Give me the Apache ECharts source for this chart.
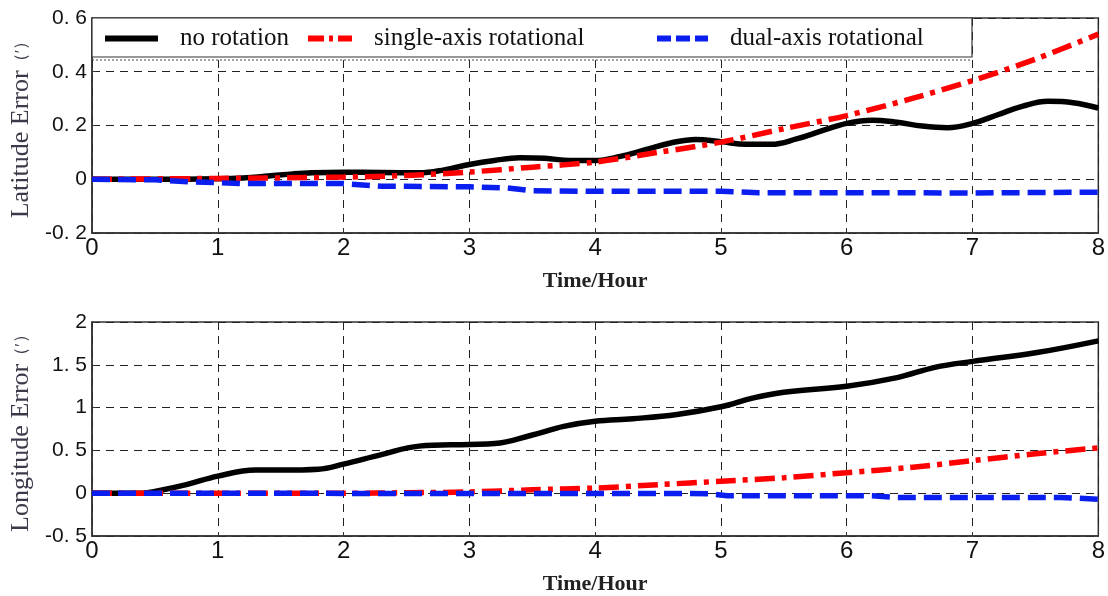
<!DOCTYPE html>
<html>
<head>
<meta charset="utf-8">
<script src="https://cdn.jsdelivr.net/npm/echarts@6/dist/echarts.min.js"></script>
<style>
  html, body { margin: 0; padding: 0; background: #fff; }
  #main { width: 1108px; height: 596px; }
</style>
</head>
<body>
<div id="main"></div>
<script>
// latitude error (top panel)
const latNoRotT = [0, 0.5, 1, 1.2, 1.4, 1.6, 1.75, 2, 2.3, 2.6, 2.8, 3, 3.2, 3.4, 3.6, 3.8, 4, 4.2, 4.4, 4.6, 4.8, 5, 5.2, 5.4, 5.6, 5.8, 6, 6.2, 6.4, 6.6, 6.8, 7, 7.2, 7.4, 7.6, 7.8, 8];
const latNoRot = [0, 0, 0.002, 0.005, 0.012, 0.02, 0.024, 0.026, 0.025, 0.024, 0.035, 0.055, 0.07, 0.08, 0.078, 0.07, 0.07, 0.085, 0.11, 0.135, 0.148, 0.14, 0.13, 0.13, 0.15, 0.18, 0.208, 0.22, 0.212, 0.198, 0.192, 0.208, 0.24, 0.272, 0.29, 0.285, 0.265];
const latSingleT = [0, 1, 2, 2.5, 3, 3.5, 4, 4.5, 5, 5.5, 6, 6.5, 7, 7.5, 8];
const latSingle = [0, 0.003, 0.008, 0.014, 0.027, 0.045, 0.064, 0.1, 0.138, 0.188, 0.237, 0.298, 0.367, 0.447, 0.54];
const latDualT = [0, 0.5, 0.8, 1.2, 2, 2.3, 3, 3.3, 3.5, 4, 5, 5.3, 6, 7, 8];
const latDual = [0, -0.002, -0.01, -0.016, -0.016, -0.026, -0.028, -0.032, -0.043, -0.045, -0.045, -0.05, -0.05, -0.051, -0.048];

// longitude error (bottom panel)
const lonNoRotT = [0, 0.4, 0.5, 0.75, 1, 1.3, 1.5, 1.8, 2, 2.3, 2.6, 3, 3.2, 3.5, 3.75, 4, 4.3, 4.65, 5, 5.25, 5.5, 6, 6.4, 6.7, 7, 7.5, 8];
const lonNoRot = [0, 0, 0.02, 0.1, 0.2, 0.27, 0.27, 0.28, 0.34, 0.45, 0.55, 0.57, 0.58, 0.68, 0.78, 0.84, 0.87, 0.92, 1.01, 1.11, 1.18, 1.25, 1.35, 1.47, 1.54, 1.64, 1.78];
const lonSingleT = [0, 1, 2, 2.5, 3, 3.5, 4, 4.5, 5, 5.5, 6, 6.5, 7, 7.5, 8];
const lonSingle = [0, 0, 0, 0.005, 0.015, 0.04, 0.06, 0.1, 0.14, 0.18, 0.24, 0.3, 0.38, 0.46, 0.53];
const lonDualT = [0, 4.9, 5.05, 6.2, 6.4, 7.7, 8];
const lonDual = [0, -0.005, -0.03, -0.03, -0.05, -0.05, -0.07];

const names = ['no rotation', 'single-axis rotational', 'dual-axis rotational'];
const yNames = ['Latitude Error', 'Longitude Error'];
const yUnit = '（′）';
const xName = 'Time/Hour';

const zip = (t, v) => t.map((x, i) => [x, v[i]]);
const serif = '"Liberation Serif", "DejaVu Serif", serif';
const sans = '"Liberation Sans", Arial, sans-serif';

const chartDom = document.getElementById('main');
const myChart = echarts.init(chartDom);

const styles = [
    { color: '#000000', type: 'solid', smooth: 0.4 },
    { color: '#ff0000', type: [20, 7, 5, 7], smooth: 0.3 },
    { color: '#0a1ef0', type: [18, 8], smooth: false }
];

function makeSeries(name, idx, data, axis) {
    const s = styles[names.indexOf(name)];
    return {
        name,
        type: 'line',
        xAxisIndex: axis,
        yAxisIndex: axis,
        data,
        symbol: 'none',
        smooth: s.smooth,
        lineStyle: { color: s.color, width: 5.5, type: s.type },
        itemStyle: { color: s.color },
        z: 3 + idx
    };
}

const fmt = v => String(v).replace('.', '. ');

function xAxis(grid) {
    return {
        type: 'value',
        gridIndex: grid,
        min: 0,
        max: 8,
        interval: 1,
        name: xName,
        nameLocation: 'middle',
        nameGap: 37,
        nameTextStyle: { fontFamily: serif, fontSize: 22, fontWeight: 'bold', color: '#222' },
        axisLine: { show: true, onZero: false, lineStyle: { color: '#333', width: 1.5 } },
        axisTick: { show: true, inside: true, length: 4, lineStyle: { color: '#333' } },
        axisLabel: { fontFamily: sans, fontSize: 24, color: '#111', margin: 3 },
        splitLine: { show: true, lineStyle: { color: '#222', type: [8, 6], width: 1 } }
    };
}

function yAxis(grid, min, max, interval) {
    return {
        type: 'value',
        gridIndex: grid,
        min,
        max,
        interval,
        name: yNames[grid] + '{p|' + yUnit + '}',
        nameLocation: 'middle',
        nameGap: 56,
        nameTextStyle: {
            fontFamily: serif, fontSize: 26, color: '#3a3a4a',
            rich: { p: { fontFamily: serif, fontSize: 17, color: '#3a3a4a' } }
        },
        axisLine: { show: true, onZero: false, lineStyle: { color: '#333', width: 1.5 } },
        axisTick: { show: true, inside: true, length: 4, lineStyle: { color: '#333' } },
        axisLabel: { fontFamily: sans, fontSize: 21, color: '#111', margin: 5, formatter: fmt },
        splitLine: { show: true, lineStyle: { color: '#222', type: [8, 6], width: 1 } }
    };
}

function legend(name, left, iconW, dash) {
    return {
        data: [name],
        left,
        top: 26,
        padding: 0,
        itemWidth: iconW,
        itemHeight: 14,
        selectedMode: false,
        itemStyle: { opacity: 0 },
        lineStyle: { width: 6, type: dash },
        textStyle: { fontFamily: serif, fontSize: 25, color: '#111', padding: [0, 0, 0, 17] },
        z: 20
    };
}

myChart.setOption({
    backgroundColor: '#fff',
    animation: false,
    grid: [
        { left: 92, right: 8, top: 18, height: 215, show: true, borderColor: '#333', borderWidth: 1.5 },
        { left: 92, right: 8, top: 322, height: 216, show: true, borderColor: '#333', borderWidth: 1.5 }
    ],
    xAxis: [xAxis(0), xAxis(1)],
    yAxis: [yAxis(0, -0.2, 0.6, 0.2), yAxis(1, -0.5, 2, 0.5)],
    legend: [
        legend(names[0], 102, 53, 'solid'),
        legend(names[1], 305, 44, [16, 5, 4, 5]),
        legend(names[2], 654, 51, [14, 5])
    ],
    graphic: [
        {
            type: 'rect',
            z: 10,
            shape: { x: 92, y: 18, width: 880, height: 39 },
            style: { fill: '#fff', stroke: '#333', lineWidth: 1.2 }
        },
        {
            type: 'line',
            z: 10,
            shape: { x1: 92, y1: 60, x2: 972, y2: 60 },
            style: { stroke: '#444', lineWidth: 1, lineDash: [2, 2] }
        }
    ],
    series: [
        makeSeries(names[0], 0, zip(latNoRotT, latNoRot), 0),
        makeSeries(names[1], 1, zip(latSingleT, latSingle), 0),
        makeSeries(names[2], 2, zip(latDualT, latDual), 0),
        makeSeries(names[0], 0, zip(lonNoRotT, lonNoRot), 1),
        makeSeries(names[1], 1, zip(lonSingleT, lonSingle), 1),
        makeSeries(names[2], 2, zip(lonDualT, lonDual), 1)
    ]
});
</script>
</body>
</html>
